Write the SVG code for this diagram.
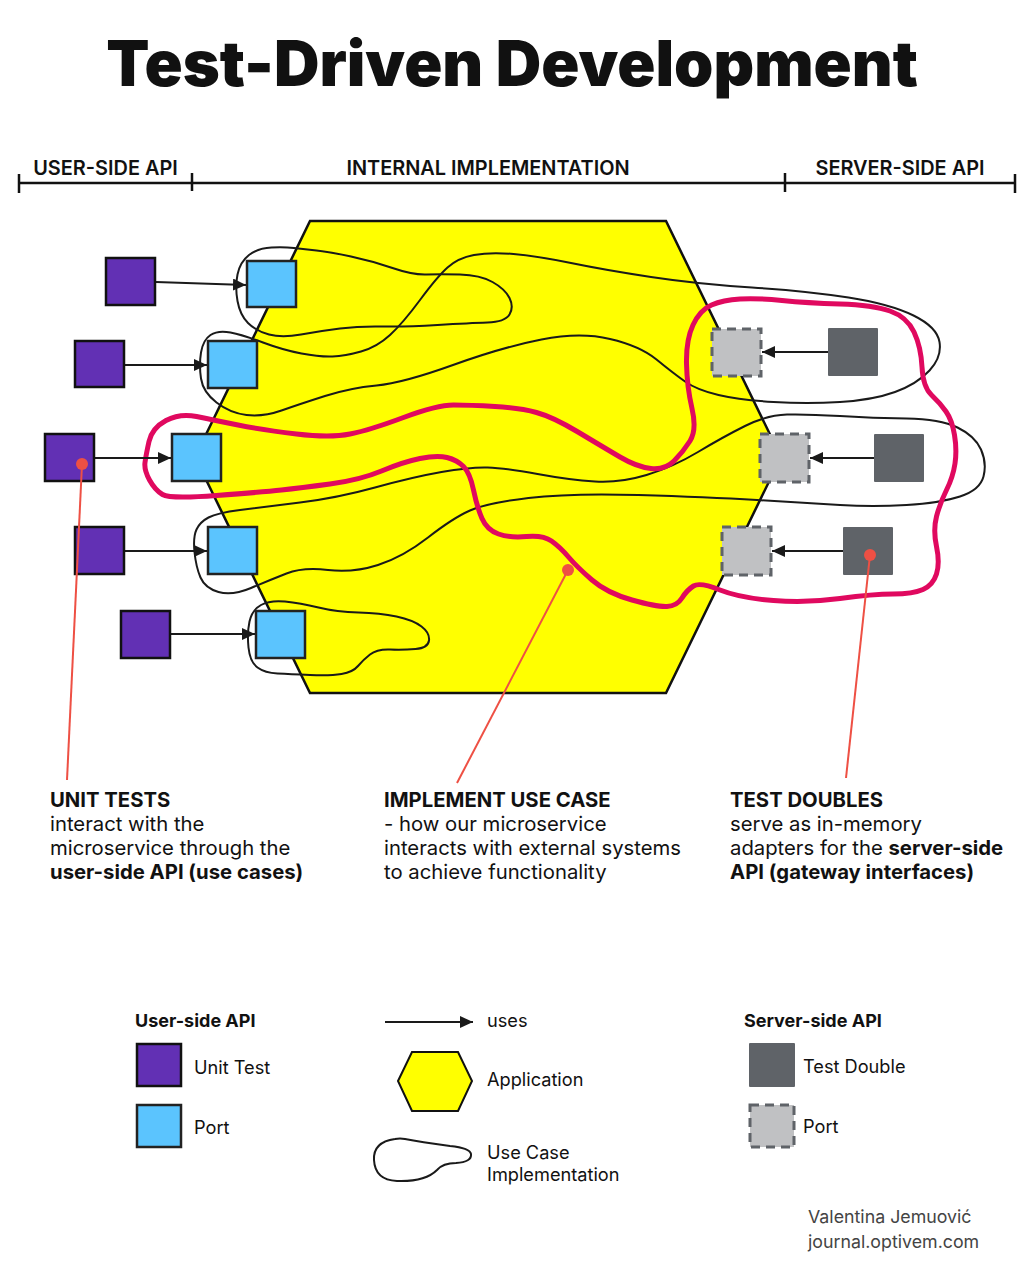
<svg xmlns="http://www.w3.org/2000/svg" width="1025" height="1264" viewBox="0 0 1025 1264">
<style>
text{font-family:Inter,"Noto Sans","Liberation Sans",sans-serif;fill:#111}
.title{font-size:63px;font-weight:900}
.hdr{font-size:19.9px;font-weight:600}
.ann{font-size:20.3px}
.b{font-weight:700}
.lg{font-size:18.2px}
.lgh{font-size:18px;font-weight:700}
.credit{font-size:17.8px;fill:#444}
.ut{fill:#6230b4;stroke:#111;stroke-width:2.5}
.up{fill:#5bc4fe;stroke:#222;stroke-width:2.5}
.td{fill:#5f6368}
.sp{fill:#c0c1c3;stroke:#5f6368;stroke-width:3;stroke-dasharray:9 6}
.uc{fill:none;stroke:#1a1a1a;stroke-width:2}
.tdd{fill:none;stroke:#e0095f;stroke-width:5}
.arr{stroke:#1a1a1a;stroke-width:2;fill:none;marker-end:url(#ah)}
.rl{stroke:#ee5044;stroke-width:2;fill:none}
.rd{fill:#ee5044}
.scale{stroke:#111;stroke-width:2.5;fill:none}
</style>
<defs>
<marker id="ah" markerUnits="userSpaceOnUse" markerWidth="13" markerHeight="12" refX="13" refY="6" orient="auto">
<path d="M0,0 L13,6 L0,12 z" fill="#1a1a1a"/>
</marker>
</defs>
<rect width="1025" height="1264" fill="#fff"/>
<text class="title" x="512" y="86" text-anchor="middle">Test-Driven Development</text>
<g id="scale">
<path class="scale" d="M19,183 H1015 M19,174 V193 M192,173 V191 M785,173 V192 M1015,174 V193"/>
<text class="hdr" x="105.5" y="175" text-anchor="middle">USER-SIDE API</text>
<text class="hdr" x="488" y="175" text-anchor="middle">INTERNAL IMPLEMENTATION</text>
<text class="hdr" x="900" y="175" text-anchor="middle">SERVER-SIDE API</text>
</g>
<g id="application">
<polygon points="310,221 666,221 781,457 666,693 310,693 195,457" fill="#ffff00" stroke="#111" stroke-width="2.5"/>
</g>
<g id="use-cases">
<path class="uc" d="M294,248 Q285,247 271.5,247.5 Q258,248 249,255 Q240,262 237.5,274.5 Q235,287 237.5,301 Q240,315 248,323 Q256,331 269,334.5 Q282,338 301,334.5 Q320,331 340,328.5 Q360,326 382.5,326.5 Q405,327 437.5,325 Q470,323 487.5,322.5 Q505,322 509.5,314.5 Q514,307 509.5,298 Q505,289 492.5,282 Q480,275 460,274.5 Q440,274 426.5,274.5 Q413,275 392.5,268 Q372,261 351,256.5 Q330,252 316.5,250.5 Q303,249 294,248 Z"/>
<path class="uc" d="M216.5,402.5 Q203,392 201,378.5 Q199,365 201,352.5 Q203,340 210.5,335 Q218,330 230.5,332.5 Q243,335 263,342.5 Q283,350 301.5,353.5 Q320,357 332.5,356.5 Q345,356 361,351.5 Q377,347 390,335 Q403,323 420,300 Q437,277 447.5,267.5 Q458,258 474,255 Q490,252 513.5,254 Q537,256 571,263 Q605,270 651,277 Q697,284 752,287.5 Q807,291 848.5,297.5 Q890,304 913.5,315.5 Q937,327 939.5,342 Q942,357 929.5,370.5 Q917,384 895,392 Q873,400 840,402 Q807,404 773.5,402 Q740,400 718.5,395 Q697,390 685,381.5 Q673,373 656.5,359.5 Q640,346 610,339 Q580,332 541.5,339.5 Q503,347 453,365 Q403,383 376.5,385.5 Q350,388 325,396 Q300,404 281.5,410.5 Q263,417 246.5,415 Q230,413 216.5,402.5 Z"/>
<path class="uc" d="M194.5,552 Q193,537 196.5,529.5 Q200,522 208.5,517.5 Q217,513 240,510 Q263,507 300,502.5 Q337,498 375,487.5 Q413,477 441.5,472 Q470,467 487.5,467.5 Q505,468 537.5,474 Q570,480 595,481.5 Q620,483 646.5,475 Q673,467 698,452 Q723,437 745,426 Q767,415 787,414.5 Q807,414 840,416 Q873,418 906.5,418.5 Q940,419 957.5,427.5 Q975,436 981,449.5 Q987,463 983.5,476.5 Q980,490 960,496.5 Q940,503 906.5,505 Q873,507 840,505 Q807,503 757,500 Q707,497 638.5,495 Q570,493 528.5,498 Q487,503 470,510.5 Q453,518 428,537.5 Q403,557 378,565 Q353,573 328,570 Q303,567 286.5,573.5 Q270,580 251,588 Q232,596 218.5,592 Q205,588 200.5,577.5 Q196,567 194.5,552 Z"/>
<path class="uc" d="M248.5,647.5 Q247,633 249.5,621.5 Q252,610 261,605 Q270,600 285,601.5 Q300,603 318.5,607.5 Q337,612 358.5,612.5 Q380,613 396.5,616.5 Q413,620 421.5,626.5 Q430,633 429,640.5 Q428,648 415.5,649 Q403,650 390,649.5 Q377,649 370,654.5 Q363,660 358,666 Q353,672 341.5,674 Q330,676 310,675 Q290,674 277.5,673.5 Q265,673 257.5,667.5 Q250,662 248.5,647.5 Z"/>
<path class="tdd" d="M145,462.5 Q146,455 149,441.5 Q152,428 166,420.5 Q180,413 196.5,416.5 Q213,420 238,425 Q263,430 296.5,434 Q330,438 350,434 Q370,430 403.5,417.5 Q437,405 453.5,405 Q470,405 495,406.5 Q520,408 536.5,412.5 Q553,417 578,432 Q603,447 620,457 Q637,467 651,468.5 Q665,470 674,461 Q683,452 690,441 Q697,430 692,408.5 Q687,387 686.5,363.5 Q686,340 693,325 Q700,310 711.5,305 Q723,300 740,299 Q757,298 782,300.5 Q807,303 840,304 Q873,305 890,311 Q907,317 914,332 Q921,347 922,367 Q923,387 931.5,395 Q940,403 946,411.5 Q952,420 954.5,435 Q957,450 955,463.5 Q953,477 946.5,490 Q940,503 936.5,516.5 Q933,530 936.5,546.5 Q940,563 936.5,574 Q933,585 923,589.5 Q913,594 893,594 Q873,594 840,598.5 Q807,603 773.5,600.5 Q740,598 720,590 Q700,582 693.5,586 Q687,590 682,598 Q677,606 667,606.5 Q657,607 632,600 Q607,593 592,580 Q577,567 568.5,557 Q560,547 551.5,541 Q543,535 526.5,536.5 Q510,538 498.5,534 Q487,530 482,518.5 Q477,507 473.5,490 Q470,473 463.5,466.5 Q457,460 447,457.5 Q437,455 420,458.5 Q403,462 381.5,471 Q360,480 330,484 Q300,488 281.5,490 Q263,492 216.5,495.5 Q170,499 162.5,494.5 Q155,490 149.5,480 Q144,470 145,462.5 Z"/>
</g>
<g id="connectors">
<line class="arr" x1="156" y1="282" x2="246" y2="285"/>
<line class="arr" x1="125" y1="365" x2="207" y2="365"/>
<line class="arr" x1="95" y1="458" x2="171" y2="458"/>
<line class="arr" x1="125" y1="551" x2="207" y2="551"/>
<line class="arr" x1="171" y1="634" x2="255" y2="634"/>
<line class="arr" x1="828" y1="352" x2="762" y2="352"/>
<line class="arr" x1="874" y1="458" x2="810" y2="458"/>
<line class="arr" x1="843" y1="551" x2="772" y2="551"/>
</g>
<g id="unit-test-1"><rect class="ut" x="106" y="258" width="49" height="47"/></g>
<g id="unit-test-2"><rect class="ut" x="75" y="341" width="49" height="46"/></g>
<g id="unit-test-3"><rect class="ut" x="45" y="434" width="49" height="47"/></g>
<g id="unit-test-4"><rect class="ut" x="75" y="527" width="49" height="47"/></g>
<g id="unit-test-5"><rect class="ut" x="121" y="611" width="49" height="47"/></g>
<g id="user-port-1"><rect class="up" x="247" y="261" width="49" height="46"/></g>
<g id="user-port-2"><rect class="up" x="208" y="341" width="49" height="47"/></g>
<g id="user-port-3"><rect class="up" x="172" y="434" width="49" height="47"/></g>
<g id="user-port-4"><rect class="up" x="208" y="527" width="49" height="47"/></g>
<g id="user-port-5"><rect class="up" x="256" y="611" width="49" height="47"/></g>
<g id="server-port-1"><rect class="sp" x="712" y="329" width="49" height="47"/></g>
<g id="server-port-2"><rect class="sp" x="760" y="434" width="49" height="48"/></g>
<g id="server-port-3"><rect class="sp" x="722" y="527" width="49" height="48"/></g>
<g id="test-double-1"><rect class="td" x="828" y="328" width="50" height="48" rx="1"/></g>
<g id="test-double-2"><rect class="td" x="874" y="434" width="50" height="48" rx="1"/></g>
<g id="test-double-3"><rect class="td" x="843" y="527" width="50" height="48" rx="1"/></g>
<g id="note-unit-tests">
<line class="rl" x1="82" y1="464" x2="67" y2="780"/>
<circle class="rd" cx="82" cy="464" r="6"/>
<text class="ann" x="50" y="807"><tspan class="b">UNIT TESTS</tspan><tspan x="50" dy="24">interact with the</tspan><tspan x="50" dy="24">microservice through the</tspan><tspan x="50" dy="24" class="b">user-side API (use cases)</tspan></text>
</g>
<g id="note-implement">
<line class="rl" x1="568" y1="570" x2="457" y2="783"/>
<circle class="rd" cx="568" cy="570" r="6"/>
<text class="ann" x="384" y="807"><tspan class="b">IMPLEMENT USE CASE</tspan><tspan x="384" dy="24">- how our microservice</tspan><tspan x="384" dy="24">interacts with external systems</tspan><tspan x="384" dy="24">to achieve functionality</tspan></text>
</g>
<g id="note-test-doubles">
<line class="rl" x1="870" y1="555" x2="846" y2="778"/>
<circle class="rd" cx="870" cy="555" r="6"/>
<text class="ann" x="730" y="807"><tspan class="b">TEST DOUBLES</tspan><tspan x="730" dy="24">serve as in-memory</tspan><tspan x="730" dy="24">adapters for the <tspan class="b">server-side</tspan></tspan><tspan x="730" dy="24" class="b">API (gateway interfaces)</tspan></text>
</g>
<g id="legend">
<text class="lgh" x="135" y="1027">User-side API</text>
<rect class="ut" x="137" y="1044" width="44" height="42"/>
<text class="lg" x="194" y="1074">Unit Test</text>
<rect class="up" x="137" y="1105" width="44" height="42"/>
<text class="lg" x="194" y="1134">Port</text>
<line class="arr" x1="385" y1="1022" x2="473" y2="1022"/>
<text class="lg" x="487" y="1027">uses</text>
<polygon points="398,1081 412,1052 458,1052 472,1081 458,1111 412,1111" fill="#ffff00" stroke="#111" stroke-width="2"/>
<text class="lg" x="487" y="1086">Application</text>
<path class="uc" d="M395,1139 Q373,1142 374,1160 Q375,1180 397,1181 Q425,1182 437,1170 Q443,1163 456,1163 Q472,1162 471,1154 Q470,1148 450,1146 Q420,1142 405,1139 Q400,1138 395,1139 Z"/>
<text class="lg" x="487" y="1159">Use Case</text>
<text class="lg" x="487" y="1181">Implementation</text>
<text class="lgh" x="744" y="1027">Server-side API</text>
<rect class="td" x="749" y="1043" width="46" height="44" rx="1"/>
<text class="lg" x="803" y="1073">Test Double</text>
<rect class="sp" x="750" y="1105" width="44" height="42"/>
<text class="lg" x="803" y="1133">Port</text>
</g>
<g id="credit">
<text class="credit" x="808" y="1223">Valentina Jemuović</text>
<text class="credit" x="808" y="1248">journal.optivem.com</text>
</g>
</svg>
